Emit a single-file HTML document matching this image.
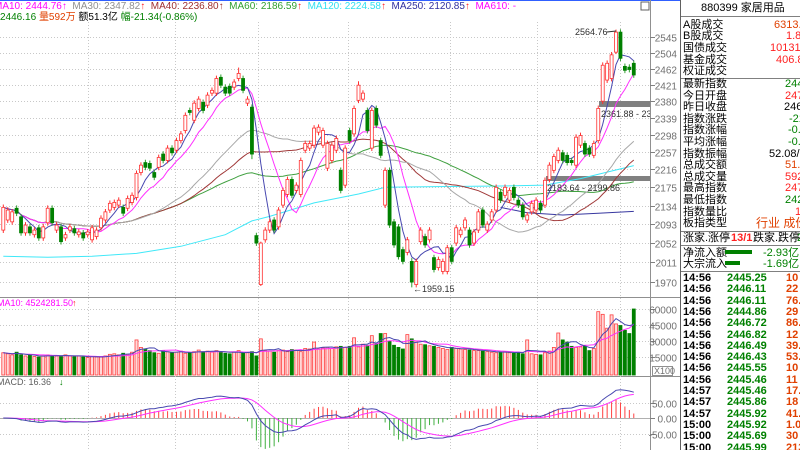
<!DOCTYPE html>
<html><head><meta charset="utf-8">
<style>
html,body{margin:0;padding:0;background:#fff;}
#wrap{position:relative;width:800px;height:450px;overflow:hidden;background:#fff;font-family:"Liberation Sans","Noto Sans CJK SC",sans-serif;}
svg{position:absolute;left:0;top:0;}
#panel{position:absolute;left:680px;top:0;width:120px;height:450px;overflow:hidden;border-left:1px solid #606060;font-size:11px;}
.r{position:absolute;white-space:nowrap;line-height:12px;}
.hl{position:absolute;left:0;width:120px;height:1px;background:#808080;}
.g{color:#008000}.rd{color:#ff2020}.o{color:#e04000}.k{color:#000}
.hdr{position:absolute;white-space:nowrap;font-size:10px;line-height:11px;}
</style></head>
<body>
<div id="wrap">
<svg id="chart" width="680" height="450"></svg>
<div class="hdr" style="left:-6px;top:1px;"><span style="color:#ff00ff">MA10: 2444.76↑</span>&nbsp;&nbsp;<span style="color:#909090">MA30: 2347.82</span><span style="color:#ff2020">↑</span>&nbsp;&nbsp;<span style="color:#a03030">MA40: 2236.80↑</span>&nbsp;&nbsp;<span style="color:#30a030">MA60: 2186.59</span><span style="color:#ff2020">↑</span>&nbsp;&nbsp;<span style="color:#30e0f0">MA120: 2224.58</span><span style="color:#ff2020">↑</span>&nbsp;&nbsp;<span style="color:#3030a0">MA250: 2120.85</span><span style="color:#ff2020">↑</span>&nbsp;&nbsp;<span style="color:#ff00ff">MA610: -</span></div>
<div class="hdr" style="left:-10px;top:12px;"><span class="g">收2446.16</span> <span class="o">量592万</span> <span class="k">额51.3亿</span> <span class="g">幅-21.34(-0.86%)</span></div>

<div id="panel">
<div class="r k" style="left:20px;top:2px;">880399 家居用品</div>
<div class="hl" style="top:16px"></div>
<div class="r k" style="left:2px;top:19px;">A股成交</div><div class="r o" style="left:93px;top:19px;">6313.40亿</div>
<div class="r k" style="left:2px;top:30px;">B股成交</div><div class="r rd" style="left:105px;top:30px;">1.86亿</div>
<div class="r k" style="left:2px;top:42px;">国债成交</div><div class="r rd" style="left:89px;top:42px;">10131.25亿</div>
<div class="r k" style="left:2px;top:54px;">基金成交</div><div class="r rd" style="left:95px;top:54px;">406.80亿</div>
<div class="r k" style="left:2px;top:65px;">权证成交</div>
<div class="hl" style="top:78px"></div>
<div class="r k" style="left:2px;top:78px;">最新指数</div><div class="r g" style="left:104px;top:78px;">2446.16</div>
<div class="r k" style="left:2px;top:90px;">今日开盘</div><div class="r rd" style="left:104px;top:90px;">2476.00</div>
<div class="r k" style="left:2px;top:101px;">昨日收盘</div><div class="r k" style="left:103px;top:101px;">2467.50</div>
<div class="r k" style="left:2px;top:113px;">指数涨跌</div><div class="r g" style="left:108px;top:113px;">-21.34</div>
<div class="r k" style="left:2px;top:124px;">指数涨幅</div><div class="r g" style="left:107px;top:124px;">-0.86%</div>
<div class="r k" style="left:2px;top:136px;">平均涨幅</div><div class="r g" style="left:107px;top:136px;">-0.52%</div>
<div class="r k" style="left:2px;top:148px;">指数振幅</div><div class="r k" style="left:88px;top:148px;">52.08/2.11%</div>
<div class="r k" style="left:2px;top:159px;">总成交额</div><div class="r o" style="left:104px;top:159px;">51.3亿</div>
<div class="r k" style="left:2px;top:171px;">总成交量</div><div class="r rd" style="left:104px;top:171px;">5924万</div>
<div class="r k" style="left:2px;top:182px;">最高指数</div><div class="r rd" style="left:104px;top:182px;">2478.20</div>
<div class="r k" style="left:2px;top:194px;">最低指数</div><div class="r g" style="left:104px;top:194px;">2426.12</div>
<div class="r k" style="left:2px;top:206px;">指数量比</div><div class="r rd" style="left:114px;top:206px;">1.02</div>
<div class="r k" style="left:2px;top:217px;">板指类型</div><div class="r o" style="left:75px;top:217px;font-size:12px;">行业 成份股</div>
<div class="hl" style="top:231px"></div>
<div class="r k" style="left:2px;top:232px;">涨家.涨停</div><div class="r rd" style="left:50px;top:232px;font-weight:bold;">13/1</div><div class="r k" style="left:72px;top:232px;">跌家.跌停</div><div class="r g" style="left:116px;top:232px;">2</div>
<div class="hl" style="top:245px"></div>
<div class="r k" style="left:2px;top:247px;">净流入额</div><div style="position:absolute;left:44px;top:250px;width:27px;height:4px;background:#008000;"></div><div class="r g" style="left:82px;top:247px;">-2.93亿</div>
<div class="r k" style="left:2px;top:258px;">大宗流入</div><div style="position:absolute;left:44px;top:261px;width:15px;height:4px;background:#008000;"></div><div class="r g" style="left:82px;top:258px;">-1.69亿</div>
<div class="hl" style="top:271px"></div>
<div id="ticks"></div>
</div>
</div>
<script>
const opens=[2080,2102,2098,2128,2109,2074,2087,2070,2085,2063,2096,2128,2080,2087,2063,2080,2083,2070,2074,2070,2059,2066,2085,2102,2124,2130,2135,2130,2128,2141,2152,2209,2232,2230,2209,2221,2252,2237,2266,2261,2284,2308,2357,2333,2362,2377,2370,2400,2400,2440,2415,2417,2415,2437,2437,2375,2365,2068,1965,2059,2080,2102,2087,2135,2159,2193,2168,2159,2261,2266,2273,2304,2273,2219,2237,2261,2214,2180,2308,2300,2382,2385,2357,2266,2362,2284,2135,2214,2098,2087,2038,2032,2013,1965,2055,2066,2059,2021,2000,1992,1992,2042,2052,2070,2085,2080,2052,2080,2124,2080,2102,2124,2164,2157,2146,2175,2146,2135,2102,2120,2124,2139,2135,2193,2214,2237,2255,2249,2237,2226,2273,2277,2266,2249,2284,2380,2433,2437,2505,2558,2468,2466,2476];
const closes=[2130,2124,2120,2117,2074,2091,2074,2080,2063,2087,2128,2096,2091,2055,2070,2087,2074,2076,2063,2076,2085,2080,2106,2120,2139,2141,2146,2117,2150,2157,2207,2226,2221,2219,2198,2244,2237,2266,2255,2284,2300,2345,2352,2375,2385,2357,2395,2407,2437,2420,2400,2400,2428,2450,2407,2385,2252,2052,2052,2080,2098,2080,2124,2168,2193,2157,2180,2237,2277,2277,2314,2316,2308,2277,2273,2289,2168,2266,2284,2362,2420,2400,2308,2357,2321,2249,2214,2091,2048,2023,2013,2059,1970,2013,2080,2048,2080,1996,2017,2013,2042,2013,2085,2080,2102,2048,2076,2120,2091,2093,2120,2175,2146,2175,2168,2152,2135,2109,2113,2139,2146,2124,2191,2226,2246,2261,2237,2232,2232,2292,2296,2252,2252,2277,2362,2471,2476,2498,2558,2489,2458,2460,2446];
const volumes=[19000,18000,17000,19500,17000,16000,16500,15500,15000,16000,17000,16500,16000,15500,17000,16000,15500,16000,15000,14500,15500,15000,15000,16000,17500,18000,17000,18500,17500,19500,31000,24000,22000,21000,19000,18500,21000,20000,19000,19500,20500,18500,19000,20000,21500,20000,20500,19500,21000,20000,18500,18000,19500,21000,18500,19000,20000,16000,32000,21000,20500,19500,21000,21500,20000,22000,21500,20000,23000,22500,29000,22500,23500,24000,23000,24500,25000,24000,25000,33000,24500,27000,26000,35000,27500,37000,37000,30000,26000,24000,22500,36000,32000,29000,27000,26500,25500,25000,24000,23000,22000,24000,23000,22500,22000,21500,21000,21000,20500,20000,19500,19000,19500,20000,19000,18500,19500,18000,31000,18000,17500,17000,19000,20500,24000,37500,31000,29000,25000,24000,24500,25000,21000,23000,57500,55000,42000,54500,46000,44500,40000,37000,60000];
const extremeIdx=[138,92,58,56,53,80];
const extremeHigh=[2564.76,2020,2055,2372,2465,2430];
const extremeLow=[2500,1959.15,1962,2240,2430,2375];
const priceTicks=[2545,2504,2462,2421,2380,2339,2298,2257,2216,2175,2134,2093,2052,2011,1970];
const volTicks=[60000,45000,30000,15000];
const macdTicks=[50,0,-50];
const macdTickLabels=["50.00","0.00","-50.00"];
const ma120Idx=[0,10,20,30,40,50,56,60,70,80,86,100,112,122,130,142];
const ma120Val=[2024,2022,2024,2030,2045,2070,2100,2110,2140,2160,2175,2177,2178,2180,2195,2225];
const ma250Idx=[112,118,126,134,142];
const ma250Val=[2130,2118,2113,2117,2121];
const tickTimes=["14:56","14:56","14:56","14:56","14:56","14:56","14:56","14:56","14:56","14:56","14:57","14:57","14:57","15:00","15:00","15:00"];
const tickPrices=["2445.25","2446.11","2446.11","2444.86","2446.72","2446.82","2446.49","2446.43","2445.55","2445.46","2445.46","2445.86","2445.92","2445.92","2445.69","2445.99"];
const tickVols=["10","22","76.0","29","86.0","12","39.0","53.0","10","11","17.0","18","41.0","1.0","30","213"];

const NS="http://www.w3.org/2000/svg";
const svg=document.getElementById('chart');
function mk(tag,attrs,parent){const e=document.createElementNS(NS,tag);for(const k in attrs)e.setAttribute(k,attrs[k]);(parent||svg).appendChild(e);return e;}
const xOf=i=>3.3+4.44*i;
const yP=p=>37+957*Math.log(2545/p);
const yV=v=>373-v*16/15000;
const yM=m=>418-m*0.31;
const PR=650;

// frame
let e;
e=mk('line',{x1:0,y1:0.5,x2:680,y2:0.5,stroke:'#3060ff','stroke-width':1});


e=mk('line',{x1:PR+0.5,y1:0,x2:PR+0.5,y2:450,stroke:'#909090'});


e=mk('line',{x1:0,y1:297.5,x2:680,y2:297.5,stroke:'#909090'});


e=mk('line',{x1:0,y1:376.5,x2:680,y2:376.5,stroke:'#909090'});


e=mk('rect',{x:641,y:2,width:8,height:8,fill:'none',stroke:'#606060'});



// vertical grid
[88,175,258,348,450,537,620].forEach(x=>{
  e=mk('line',{x1:x+0.5,y1:22,x2:x+0.5,y2:450,stroke:'#c8c8c8','stroke-dasharray':'1,2'});
  
  
});
// price grid + labels
priceTicks.forEach(p=>{
  const y=Math.round(yP(p))+0.5;
  e=mk('line',{x1:0,y1:y,x2:PR,y2:y,stroke:'#c8c8c8','stroke-dasharray':'1,2'});
  
  
  mk('line',{x1:PR,y1:y,x2:PR+5,y2:y,stroke:'#808080'});
  e=mk('text',{x:677,y:y+4,'text-anchor':'end','font-size':10,fill:'#707070'});
  e.textContent=p;
  
  
});
volTicks.forEach(v=>{
  const y=Math.round(yV(v))+0.5;
  e=mk('line',{x1:0,y1:y,x2:PR,y2:y,stroke:'#c8c8c8','stroke-dasharray':'1,2'});
  
  
  mk('line',{x1:PR,y1:y,x2:PR+5,y2:y,stroke:'#808080'});
  e=mk('text',{x:677,y:y+4,'text-anchor':'end','font-size':10,fill:'#707070'});
  e.textContent=v;
  
  
});
macdTicks.forEach((m,k)=>{
  const y=Math.round(yM(m))+0.5;
  e=mk('line',{x1:0,y1:y,x2:PR,y2:y,stroke:m===0?'#b0b0b0':'#c8c8c8','stroke-dasharray':m===0?'':'1,2'});
  
  
  mk('line',{x1:PR,y1:y,x2:PR+5,y2:y,stroke:'#808080'});
  e=mk('text',{x:677,y:y+4,'text-anchor':'end','font-size':10,fill:'#707070'});
  e.textContent=macdTickLabels[k];
  
  
});
e=mk('rect',{x:652.5,y:366.5,width:20,height:9,fill:'#fff',stroke:'#909090'});


e=mk('text',{x:654,y:374,'font-size':9,fill:'#707070'});e.textContent='X100';



// clip
const defs=mk('defs',{});
const cp=mk('clipPath',{id:'pc'},defs);mk('rect',{x:0,y:20,width:PR,height:277},cp);
const cm=mk('clipPath',{id:'mc'},defs);mk('rect',{x:0,y:383,width:PR,height:67},cm);

const gMain=mk('g',{'clip-path':'url(#pc)'});



// gray zone bars
e=mk('rect',{x:599,y:101,width:51,height:6,fill:'#808080'},gMain);


e=mk('rect',{x:546,y:176,width:104,height:5,fill:'#808080'},gMain);



// MA lines
function maArr(arr,n){return arr.map((_,i)=>{const s=Math.max(0,i-n+1);let t=0;for(let j=s;j<=i;j++)t+=arr[j];return t/(i-s+1);});}
function poly(vals,color,name,g,yf,start){
  const pts=[];vals.forEach((v,i)=>{if(i>=(start||0))pts.push(xOf(i).toFixed(1)+','+yf(v).toFixed(1));});
  const p=mk('polyline',{points:pts.join(' '),fill:'none',stroke:color,'stroke-width':1},g);
  
  
}
function polyIdx(idx,vals,color,name,g){
  const pts=idx.map((i,k)=>xOf(i).toFixed(1)+','+yP(vals[k]).toFixed(1));
  const p=mk('polyline',{points:pts.join(' '),fill:'none',stroke:color,'stroke-width':1},g);
  
  
}
polyIdx(ma120Idx,ma120Val,'#40e8f8','ma120-line',gMain);
polyIdx(ma250Idx,ma250Val,'#3838a0','ma250-line',gMain);
poly(maArr(closes,60),'#40a040','ma60-line',gMain,yP);
poly(maArr(closes,40),'#a03838','ma40-line',gMain,yP);
poly(maArr(closes,30),'#a8a8a8','ma30-line',gMain,yP);
poly(maArr(closes,10),'#ff30ff','ma10-line',gMain,yP);
poly(maArr(closes,5),'#4848b0','ma5-line',gMain,yP);

// candles
closes.forEach((c,i)=>{
  const o=opens[i];const up=c>=o;
  let hi=Math.max(o,c)*1.003, lo=Math.min(o,c)*0.997;
  const k=extremeIdx.indexOf(i);
  if(k>=0){hi=extremeHigh[k];lo=extremeLow[k];}
  const x=xOf(i);
  const col=up?'#ff3030':'#008000';
  const g=mk('g',{},gMain);
  
  
  mk('line',{x1:x,y1:yP(hi),x2:x,y2:yP(lo),stroke:up?'#ff3030':'#30a030'},g);
  const y1=yP(Math.max(o,c)),y2=yP(Math.min(o,c));
  mk('rect',{x:x-1.5,y:y1,width:3,height:Math.max(1,y2-y1),fill:up?'#fff':'#008000',stroke:col,'stroke-width':0.8},g);
});

// annotations
e=mk('text',{x:575,y:35,'font-size':9,fill:'#303030'});e.textContent='2564.76';


mk('line',{x1:607,y1:32,x2:616,y2:31,stroke:'#303030'});
e=mk('text',{x:413,y:292,'font-size':9,fill:'#303030'});e.textContent='←1959.15';


e=mk('text',{x:601,y:117,'font-size':9,fill:'#303030'},gMain);e.textContent='2361.88 - 2376.03';


e=mk('text',{x:547,y:191,'font-size':9,fill:'#303030'},gMain);e.textContent='2183.64 - 2199.86';



// volume
e=mk('text',{x:-3,y:306,'font-size':9,fill:'#ff00ff'});e.textContent='MA10: 4524281.50';


e=mk('text',{x:72,y:306,'font-size':9,fill:'#ff2020'});e.textContent='↑';
const gVol=mk('g',{});


volumes.forEach((v,i)=>{
  const up=closes[i]>=opens[i];const x=xOf(i);const y=yV(v);
  const r=mk('rect',{x:x-1.5,y:y,width:3,height:375-y,fill:up?'#ffd8d8':'#008000',stroke:up?'#ff4040':'#008000','stroke-width':0.8},gVol);
  
  
});
poly(maArr(volumes,10),'#ff30ff','volume-ma10-line',gVol,yV);
poly(maArr(volumes,5),'#4848b0','volume-ma5-line',gVol,yV);

// MACD
function ema(arr,n){const a=2/(n+1);const out=[];arr.forEach((v,i)=>out.push(i?out[i-1]+a*(v-out[i-1]):v));return out;}
const e12=ema(closes,12),e26=ema(closes,26);
const dif=e12.map((v,i)=>v-e26[i]);
const dea=ema(dif,9);
e=mk('text',{x:-3,y:385,'font-size':9,fill:'#606060'});e.textContent='MACD: 16.36';


e=mk('text',{x:59,y:385,'font-size':9,fill:'#008000'});e.textContent='↓';
const gM=mk('g',{'clip-path':'url(#mc)'});


dif.forEach((d,i)=>{
  const h=2*(d-dea[i]);const x=xOf(i);
  const l=mk('line',{x1:x,y1:yM(0),x2:x,y2:yM(h),stroke:h>=0?'#ff4040':'#40b040','stroke-width':1},gM);
  
  
});
poly(dea,'#ff30ff','dea-line',gM,yM);
poly(dif,'#4848b0','dif-line',gM,yM);

// tick list
const tl=document.getElementById('ticks');
tickTimes.forEach((t,k)=>{
  const top=272+k*11.3;
  const a=document.createElement('div');a.className='r k';a.style.cssText='left:2px;top:'+top+'px;font-weight:bold;';a.textContent=t;
  
  
  tl.appendChild(a);
  const b=document.createElement('div');b.className='r g';b.style.cssText='left:46px;top:'+top+'px;font-weight:bold;';b.textContent=tickPrices[k];
  
  
  tl.appendChild(b);
  const c=document.createElement('div');c.className='r o';c.style.cssText='left:105px;top:'+top+'px;font-weight:bold;';c.textContent=tickVols[k];
  
  
  tl.appendChild(c);
});
</script>
</body></html>
